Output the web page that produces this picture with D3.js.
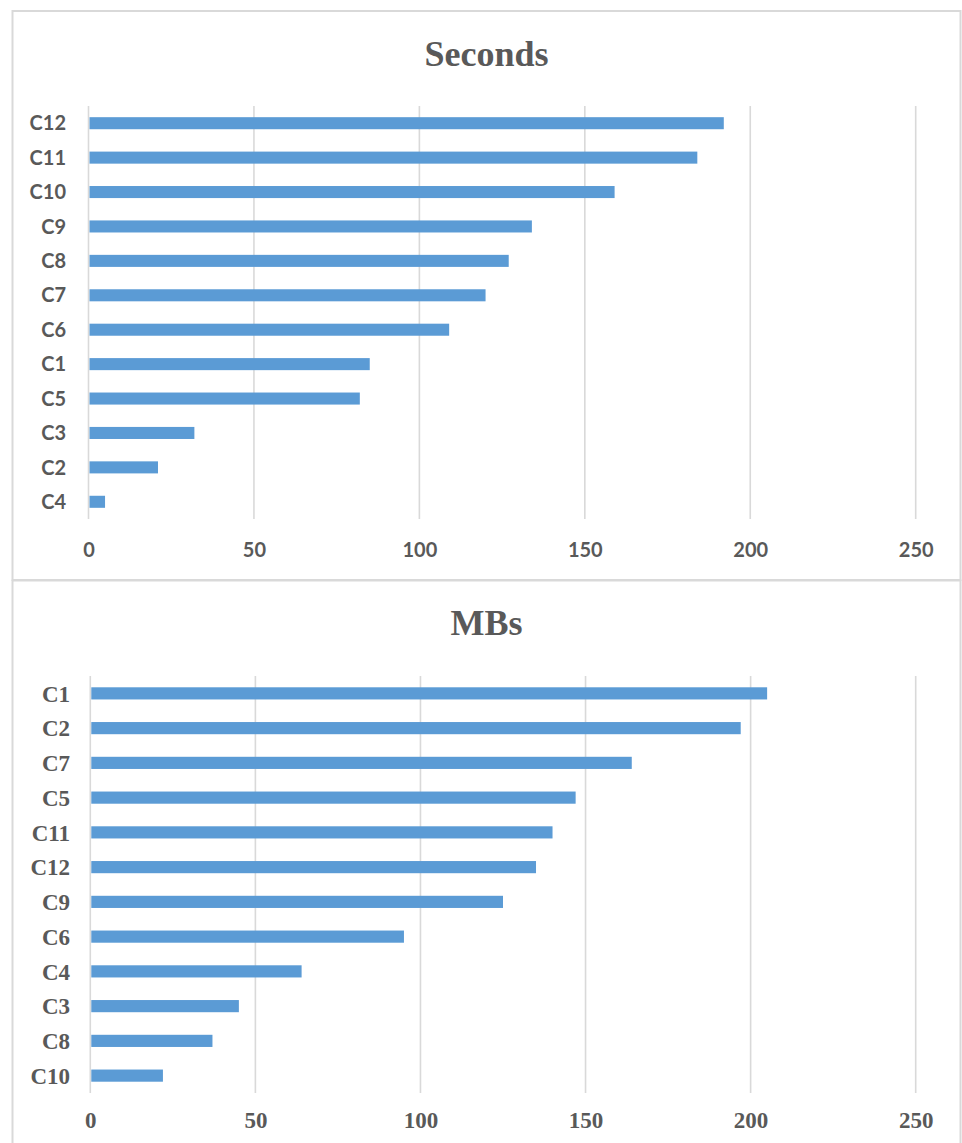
<!DOCTYPE html>
<html>
<head>
<meta charset="utf-8">
<script src="https://cdn.jsdelivr.net/npm/d3@7"></script>
<style>
  html, body { margin: 0; padding: 0; background: #fff; }
  svg { display: block; }
</style>
</head>
<body>
<svg id="chart" width="962" height="1143"></svg>
<script>
// ---- data ----
const secondsCategories = ["C12", "C11", "C10", "C9", "C8", "C7", "C6", "C1", "C5", "C3", "C2", "C4"];
const secondsValues     = [192, 184, 159, 134, 127, 120, 109, 85, 82, 32, 21, 5];

const mbsCategories = ["C1", "C2", "C7", "C5", "C11", "C12", "C9", "C6", "C4", "C3", "C8", "C10"];
const mbsValues     = [205, 197, 164, 147, 140, 135, 125, 95, 64, 45, 37, 22];

const xTicks = [0, 50, 100, 150, 200, 250];
const titles = ["Seconds", "MBs"];

// ---- drawing ----
const svg = d3.select("#chart");
const GRID = "#d9d9d9", TEXT = "#595959", BAR = "#5b9bd5";

// outer frames
svg.append("rect").attr("x", 12.5).attr("y", 11).attr("width", 948).attr("height", 569)
  .attr("fill", "none").attr("stroke", GRID).attr("stroke-width", 2);
svg.append("rect").attr("x", 12.5).attr("y", 580.5).attr("width", 948).attr("height", 620)
  .attr("fill", "none").attr("stroke", GRID).attr("stroke-width", 2);

function drawChart(cfg) {
  const g = svg.append("g");
  const x = d3.scaleLinear().domain([0, 250]).range([cfg.x0, cfg.x1]);
  const y = d3.scaleBand().domain(cfg.categories).range([cfg.y0, cfg.y1])
    .paddingInner(0.65).paddingOuter(0.325);

  // title
  g.append("text")
    .attr("x", 486.5).attr("y", cfg.titleY)
    .attr("text-anchor", "middle")
    .attr("font-family", "'Liberation Serif', 'Times New Roman', serif")
    .attr("font-weight", "bold").attr("font-size", 36)
    .attr("fill", TEXT).text(cfg.title);

  // gridlines
  g.selectAll("line.grid").data(xTicks).enter().append("line")
    .attr("class", "grid")
    .attr("x1", d => x(d)).attr("x2", d => x(d))
    .attr("y1", cfg.y0).attr("y2", cfg.y1)
    .attr("stroke", GRID).attr("stroke-width", 1.6);

  // bars
  g.selectAll("rect.bar").data(cfg.values).enter().append("rect")
    .attr("class", "bar")
    .attr("x", x(0) + 1)
    .attr("y", (d, i) => y(cfg.categories[i]))
    .attr("width", d => x(d) - x(0) - 1)
    .attr("height", y.bandwidth())
    .attr("fill", BAR);

  // y axis labels
  const yAxis = d3.axisLeft(y).tickSize(0).tickPadding(0);
  const ya = g.append("g").attr("transform", `translate(${cfg.labelRight},0)`).call(yAxis);
  ya.select(".domain").remove();
  ya.selectAll("text")
    .attr("font-family", cfg.labelFont).attr("font-weight", "bold")
    .attr("font-size", cfg.labelSize).attr("fill", TEXT)
    .attr("dy", "0.36em");

  // x axis labels
  const xAxis = d3.axisBottom(x).tickValues(xTicks).tickSize(0).tickPadding(0).tickFormat(d3.format("d"));
  const xa = g.append("g").attr("transform", `translate(0,${cfg.tickBaseline})`).call(xAxis);
  xa.select(".domain").remove();
  xa.selectAll("text")
    .attr("font-family", cfg.labelFont).attr("font-weight", "bold")
    .attr("font-size", cfg.labelSize).attr("fill", TEXT)
    .attr("dy", 0);
}

drawChart({
  title: titles[0], titleY: 66,
  categories: secondsCategories, values: secondsValues,
  x0: 88.5, x1: 915.7, y0: 106, y1: 519,
  labelRight: 66, tickBaseline: 557,
  labelFont: "Lato, 'Open Sans', sans-serif", labelSize: 20
});

drawChart({
  title: titles[1], titleY: 635,
  categories: mbsCategories, values: mbsValues,
  x0: 90.3, x1: 915.7, y0: 676, y1: 1093,
  labelRight: 70, tickBaseline: 1127.5,
  labelFont: "'Liberation Serif', 'Times New Roman', serif", labelSize: 23
});
</script>
</body>
</html>
